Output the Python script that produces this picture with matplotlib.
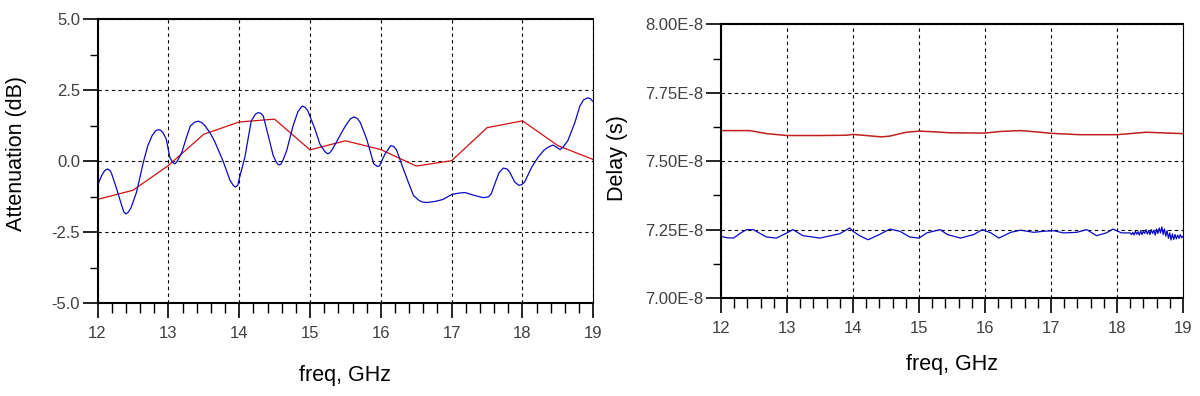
import matplotlib
matplotlib.use("Agg")
import matplotlib.pyplot as plt
from matplotlib.ticker import MultipleLocator, FuncFormatter

plt.rcParams['font.family'] = ['Liberation Sans', 'DejaVu Sans']

# left chart: attenuation (dB) vs freq (GHz)
att_blue_f = [12.00, 12.04, 12.07, 12.10, 12.14, 12.18, 12.20, 12.27, 12.34, 12.37,
              12.40, 12.43, 12.47, 12.55, 12.65, 12.71, 12.77, 12.82, 12.86, 12.89,
              12.92, 12.97, 13.02, 13.06, 13.09, 13.12, 13.19, 13.25, 13.31, 13.37,
              13.42, 13.47, 13.52, 13.60, 13.66, 13.77, 13.87, 13.92, 13.95, 13.98,
              14.00, 14.08, 14.17, 14.23, 14.27, 14.31, 14.34, 14.41, 14.48, 14.53,
              14.56, 14.59, 14.62, 14.67, 14.76, 14.83, 14.89, 14.93, 14.97, 15.07,
              15.14, 15.21, 15.25, 15.28, 15.31, 15.37, 15.44, 15.50, 15.57, 15.62,
              15.67, 15.71, 15.80, 15.90, 15.95, 15.98, 16.02, 16.06, 16.14, 16.18,
              16.22, 16.30, 16.37, 16.46, 16.53, 16.58, 16.65, 16.72, 16.79, 16.88,
              17.00, 17.10, 17.19, 17.28, 17.38, 17.45, 17.52, 17.56, 17.61, 17.67,
              17.73, 17.78, 17.82, 17.89, 17.95, 17.99, 18.03, 18.13, 18.22, 18.30,
              18.36, 18.43, 18.48, 18.53, 18.57, 18.64, 18.74, 18.81, 18.86, 18.92,
              18.96, 18.99]
att_blue = [-0.86, -0.60, -0.45, -0.33, -0.27, -0.33, -0.45, -0.97, -1.55, -1.78,
            -1.85, -1.80, -1.65, -1.09, 0.00, 0.55, 0.90, 1.07, 1.11, 1.09,
            1.02, 0.78, 0.14, -0.04, -0.09, -0.02, 0.31, 0.80, 1.24, 1.37,
            1.41, 1.36, 1.24, 0.95, 0.66, 0.02, -0.67, -0.86, -0.91, -0.84,
            -0.62, 0.14, 1.42, 1.66, 1.71, 1.68, 1.59, 0.90, 0.20, -0.06,
            -0.13, -0.10, 0.05, 0.37, 1.24, 1.75, 1.94, 1.90, 1.77, 1.13,
            0.60, 0.34, 0.26, 0.30, 0.40, 0.66, 0.98, 1.24, 1.49, 1.56,
            1.50, 1.36, 0.78, -0.09, -0.18, -0.17, 0.05, 0.26, 0.55, 0.52,
            0.41, -0.15, -0.62, -1.20, -1.36, -1.43, -1.45, -1.43, -1.40, -1.34,
            -1.17, -1.12, -1.10, -1.17, -1.24, -1.28, -1.25, -1.14, -0.79, -0.40,
            -0.24, -0.27, -0.38, -0.73, -0.85, -0.82, -0.73, -0.21, 0.14, 0.38,
            0.49, 0.57, 0.50, 0.41, 0.49, 0.72, 1.36, 1.94, 2.15, 2.23,
            2.20, 2.11]

att_red_f = [12.0, 12.5, 13.0, 13.5, 14.0, 14.5, 15.0, 15.5, 16.0, 16.5, 17.0, 17.5, 18.0, 18.5, 19.0]
att_red = [-1.34, -1.02, -0.15, 0.95, 1.38, 1.48, 0.40, 0.72, 0.41, -0.17, 0.02, 1.18, 1.42, 0.55, 0.06]

# right chart: delay, values in units of 1E-8 s
dly_red_f = [12.0, 12.44, 12.69, 13.0, 13.5, 13.9, 14.0, 14.2, 14.43, 14.56, 14.81, 15.0,
             15.2, 15.47, 16.0, 16.24, 16.54, 16.84, 17.0, 17.44, 18.0, 18.44, 19.0]
dly_red = [7.612, 7.612, 7.601, 7.594, 7.594, 7.595, 7.598, 7.594, 7.589, 7.592, 7.606, 7.610,
           7.608, 7.604, 7.603, 7.609, 7.612, 7.606, 7.602, 7.597, 7.597, 7.606, 7.601]

dly_blue_f = [12.00, 12.10, 12.19, 12.30, 12.39, 12.49, 12.60, 12.69, 12.84, 13.00,
              13.09, 13.24, 13.50, 13.80, 13.95, 14.00, 14.10, 14.23, 14.40, 14.56,
              14.71, 14.86, 15.00, 15.12, 15.32, 15.43, 15.63, 15.83, 15.96, 16.09,
              16.21, 16.39, 16.54, 16.74, 16.89, 17.04, 17.19, 17.39, 17.54, 17.69,
              17.84, 17.94, 18.07, 18.20, 18.22, 18.24, 18.26, 18.28, 18.30, 18.32,
              18.34, 18.36, 18.38, 18.40, 18.42, 18.44, 18.46, 18.48, 18.50, 18.52,
              18.54, 18.56, 18.58, 18.60, 18.62, 18.64, 18.66, 18.68, 18.70, 18.72,
              18.74, 18.76, 18.78, 18.80, 18.82, 18.84, 18.86, 18.88, 18.90, 18.92,
              18.94, 18.96, 18.98, 19.00]
dly_blue = [7.225, 7.220, 7.219, 7.238, 7.250, 7.250, 7.235, 7.223, 7.219, 7.238,
            7.250, 7.228, 7.219, 7.235, 7.256, 7.244, 7.228, 7.213, 7.232, 7.252,
            7.244, 7.223, 7.219, 7.238, 7.250, 7.232, 7.219, 7.232, 7.250, 7.238,
            7.219, 7.240, 7.248, 7.240, 7.244, 7.246, 7.238, 7.240, 7.250, 7.228,
            7.238, 7.252, 7.238, 7.238, 7.232, 7.240, 7.230, 7.244, 7.233, 7.242,
            7.230, 7.246, 7.232, 7.244, 7.236, 7.250, 7.234, 7.246, 7.232, 7.250,
            7.236, 7.248, 7.230, 7.252, 7.236, 7.256, 7.238, 7.260, 7.232, 7.252,
            7.226, 7.246, 7.218, 7.238, 7.212, 7.234, 7.214, 7.232, 7.216, 7.230,
            7.218, 7.232, 7.220, 7.226]

fig = plt.figure(figsize=(12, 3.96), dpi=100)
ax1 = fig.add_axes([0.0813, 0.2336, 0.4131, 0.7184])
ax2 = fig.add_axes([0.6008, 0.2475, 0.3850, 0.6907])

tick_gray = '#404040'


def style_axes(ax, ymajor, yminor):
    ax.set_xlim(12, 19)
    ax.xaxis.set_major_locator(MultipleLocator(1))
    ax.xaxis.set_minor_locator(MultipleLocator(0.2))
    ax.yaxis.set_major_locator(MultipleLocator(ymajor))
    ax.yaxis.set_minor_locator(MultipleLocator(yminor))
    ax.grid(True, which='major', color='black', linestyle=(0, (3, 3)), linewidth=0.8)
    ax.set_axisbelow(True)
    for side in ['left', 'top', 'bottom']:
        ax.spines[side].set_linewidth(1.5)
    ax.spines['right'].set_linewidth(0.8)
    ax.tick_params(axis='x', which='major', direction='out', length=11, width=1.2,
                   pad=5.5, labelsize=12, labelcolor=tick_gray)
    ax.tick_params(axis='x', which='minor', direction='out', length=7, width=1.0)
    ax.tick_params(axis='y', which='major', direction='out', length=11, width=1.2,
                   pad=1.5, labelsize=12, labelcolor=tick_gray)
    ax.tick_params(axis='y', which='minor', direction='out', length=6, width=1.0)
    ax.set_xlabel('freq, GHz', fontsize=15.5)


style_axes(ax1, 2.5, 1.25)
ax1.set_ylim(-5, 5)
ax1.yaxis.set_major_formatter(FuncFormatter(lambda v, p: f'{v:.1f}'))
ax1.plot(att_red_f, att_red, color='#d01010', lw=0.9)
ax1.plot(att_blue_f, att_blue, color='#0a0ac8', lw=0.9)
ax1.set_ylabel('Attenuation (dB)', fontsize=15.5)
ax1.yaxis.set_label_coords(-0.143, 0.529)
ax1.xaxis.set_label_coords(0.5, -0.216)

style_axes(ax2, 0.25e-8, 0.125e-8)
ax2.set_ylim(7.0e-8, 8.0e-8)
ax2.yaxis.set_major_formatter(FuncFormatter(lambda v, p: f'{v / 1e-8:.2f}E-8'))
ax2.plot(dly_red_f, [v * 1e-8 for v in dly_red], color='#c02020', lw=1.1)
ax2.plot(dly_blue_f, [v * 1e-8 for v in dly_blue], color='#0a0ac8', lw=0.9)
ax2.set_ylabel('Delay (s)', fontsize=15.5)
ax2.yaxis.set_label_coords(-0.201, 0.512)
ax2.xaxis.set_label_coords(0.5, -0.205)

fig.savefig('out.png', dpi=100)
